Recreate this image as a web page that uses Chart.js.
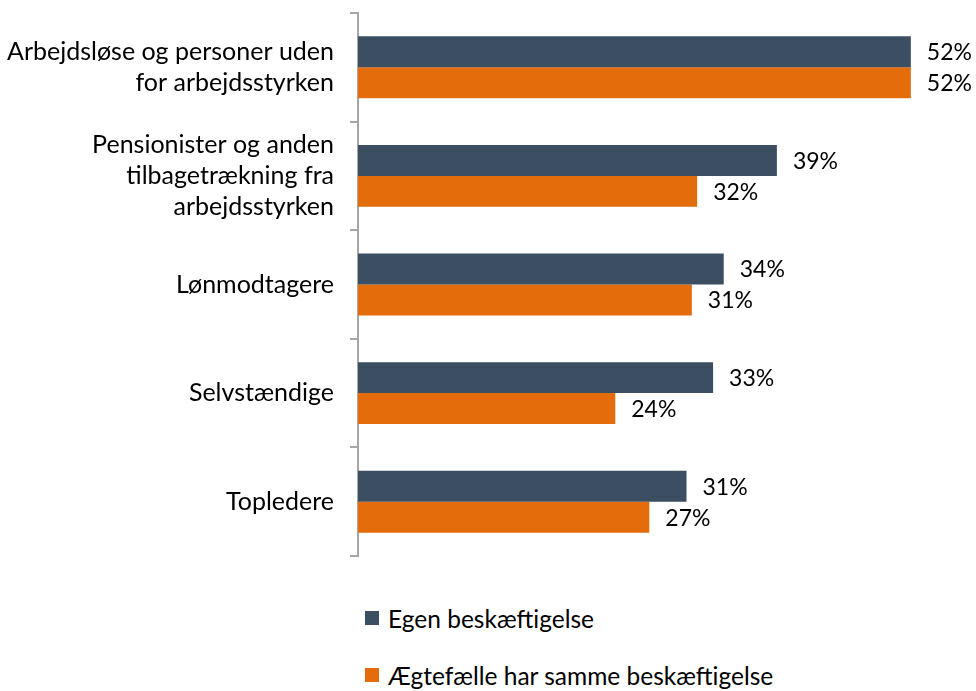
<!DOCTYPE html>
<html>
<head>
<meta charset="utf-8">
<script src="https://cdn.jsdelivr.net/npm/chart.js@4/dist/chart.umd.min.js"></script>
<style>
  body { margin: 0; background: #fff; font-family: Lato, sans-serif; }
  #wrap { position: relative; width: 976px; height: 560px; }
  #legend { position: absolute; left: 365px; top: 600px; font-size: 24.5px; color: #000; }
  .item { display: flex; align-items: center; height: 36px; margin-bottom: 21px; }
  .box { width: 14px; height: 14px; margin-right: 9px; }
</style>
</head>
<body>
<div id="wrap"><canvas id="myChart"></canvas></div>
<div id="legend"></div>
<script>
// categories and values (percent)
var categories = [
  ["Arbejdsløse og personer uden", "for arbejdsstyrken"],
  ["Pensionister og anden", "tilbagetrækning fra", "arbejdsstyrken"],
  "Lønmodtagere",
  "Selvstændige",
  "Topledere"
];
var seriesNames = ["Egen beskæftigelse", "Ægtefælle har samme beskæftigelse"];
var egen = [52, 39.4, 34.4, 33.4, 30.9];
var aegtefaelle = [52, 31.9, 31.4, 24.2, 27.4];
var colors = ["#3B4E62", "#E46C0A"];

var valueLabels = {
  id: 'valueLabels',
  afterDatasetsDraw: function(chart) {
    var ctx = chart.ctx;
    ctx.save();
    ctx.font = '23px Lato';
    ctx.fillStyle = '#000';
    ctx.textBaseline = 'middle';
    chart.data.datasets.forEach(function(ds, i) {
      chart.getDatasetMeta(i).data.forEach(function(bar, j) {
        ctx.fillText(Math.round(ds.data[j]) + '%', bar.x + 16, bar.y + 1);
      });
    });
    ctx.restore();
  }
};

var ctx = document.getElementById("myChart").getContext('2d');
var chart = new Chart(ctx, {
  type: 'bar',
  data: {
    labels: categories,
    datasets: [
      { label: seriesNames[0], data: egen, backgroundColor: colors[0] },
      { label: seriesNames[1], data: aegtefaelle, backgroundColor: colors[1] }
    ]
  },
  options: {
    indexAxis: 'y',
    responsive: true,
    maintainAspectRatio: false,
    animation: false,
    layout: { padding: { top: 13, right: 12, bottom: 4, left: 0 } },
    plugins: { legend: { display: false }, tooltip: { enabled: false } },
    datasets: { bar: { categoryPercentage: 0.57, barPercentage: 1.0 } },
    scales: {
      x: { display: false, min: 0, max: 57 },
      y: {
        afterFit: function(scale) {
          scale.width = 358;
          scale.paddingTop = 0;
          scale.paddingBottom = 0;
        },
        border: { color: '#A6A6A6', width: 2 },
        grid: { drawOnChartArea: false, tickLength: 8, color: '#A6A6A6', lineWidth: 2, offset: true },
        ticks: { color: '#000', font: { family: 'Lato', size: 25, lineHeight: 1.25 }, padding: 16 }
      }
    }
  },
  plugins: [valueLabels]
});

// legend stacked vertically like the original
var leg = document.getElementById('legend');
seriesNames.forEach(function(n, i) {
  var d = document.createElement('div');
  d.className = 'item';
  d.innerHTML = '<span class="box" style="background:' + colors[i] + '"></span>' + n;
  leg.appendChild(d);
});
</script>
</body>
</html>
